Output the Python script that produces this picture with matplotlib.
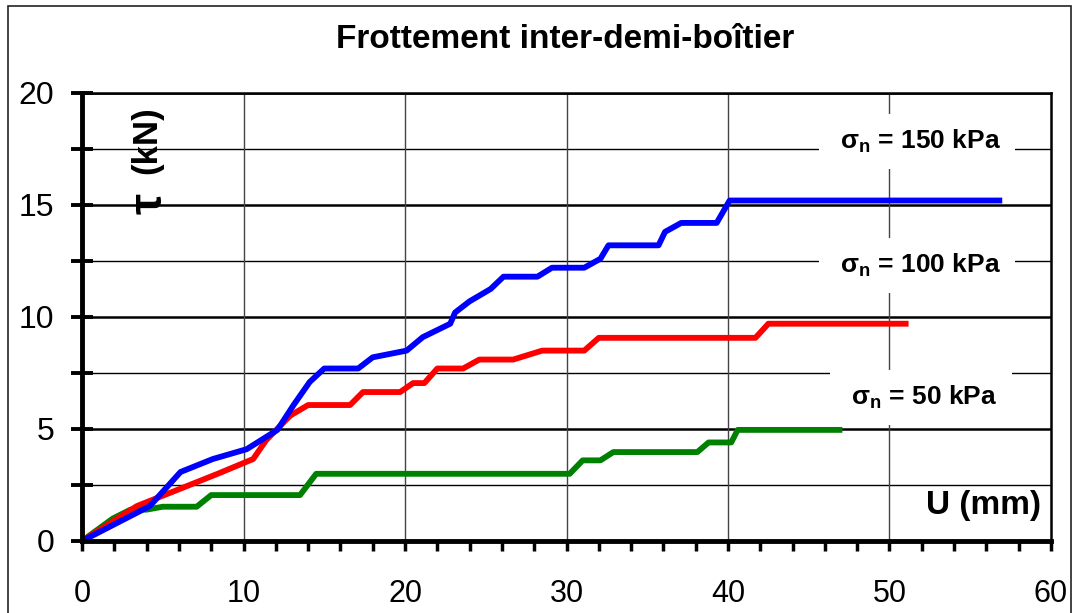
import matplotlib
matplotlib.use("Agg")
import matplotlib.pyplot as plt
from matplotlib.patches import Rectangle
from matplotlib.ticker import MultipleLocator

plt.rcParams['font.family'] = ['Liberation Sans', 'DejaVu Sans']
plt.rcParams['mathtext.fontset'] = 'custom'
plt.rcParams['mathtext.bf'] = 'Liberation Sans:bold'
plt.rcParams['mathtext.rm'] = 'Liberation Sans:bold'
plt.rcParams['mathtext.it'] = 'Liberation Sans:bold'
plt.rcParams['mathtext.default'] = 'bf'

# sigma_n = 150 kPa
u150 = [0, 4.2, 6.1, 8.1, 10.2, 12.1, 13.1, 14.1, 15.0, 17.1, 18.0, 20.1, 21.1,
        22.8, 23.1, 24.0, 25.3, 26.1, 28.2, 29.1, 31.1, 32.1, 32.6, 35.7, 36.1,
        37.1, 39.3, 40.1, 56.8]
t150 = [0, 1.56, 3.08, 3.66, 4.1, 4.96, 6.07, 7.1, 7.7, 7.7, 8.2, 8.5, 9.1,
        9.7, 10.2, 10.7, 11.25, 11.8, 11.8, 12.2, 12.2, 12.6, 13.2, 13.2, 13.8,
        14.2, 14.2, 15.2, 15.2]

# sigma_n = 100 kPa
u100 = [0, 3.4, 8.4, 10.6, 11.4, 12.9, 14.0, 16.6, 17.4, 19.7, 20.5, 21.2,
        22.0, 23.6, 24.6, 26.7, 28.5, 31.1, 32.0, 41.7, 42.5, 51.0]
t100 = [0, 1.56, 3.0, 3.66, 4.5, 5.6, 6.07, 6.07, 6.65, 6.65, 7.05, 7.05,
        7.7, 7.7, 8.1, 8.1, 8.5, 8.5, 9.07, 9.07, 9.7, 9.7]

# sigma_n = 50 kPa
u50 = [0, 1.9, 3.0, 4.0, 5.0, 7.1, 8.0, 13.5, 14.5, 30.2, 31.0, 32.1, 32.9,
       38.1, 38.8, 40.2, 40.6, 46.9]
t50 = [0, 1.0, 1.4, 1.4, 1.53, 1.53, 2.05, 2.05, 3.0, 3.0, 3.6, 3.6, 3.97,
       3.97, 4.4, 4.4, 4.96, 4.96]

labels = [r"$\sigma_n$ = 150 kPa", r"$\sigma_n$ = 100 kPa", r"$\sigma_n$ = 50 kPa"]
label_pos = [(51.7, 17.85), (51.7, 12.3), (51.95, 6.4)]

fig = plt.figure(figsize=(10.76, 6.13), dpi=100)
ax = fig.add_axes([82 / 1076, 72 / 613, 969 / 1076, 448 / 613])

# grid
for y in [2.5, 7.5, 12.5, 17.5]:
    ax.axhline(y, color='black', lw=1.0, zorder=1)
for y in [5, 10, 15, 20]:
    ax.axhline(y, color='black', lw=1.8, zorder=1)
for x in [10, 20, 30, 40, 50]:
    ax.axvline(x, color='#444444', lw=1.0, zorder=1)

ax.plot(u50, t50, color='#008000', lw=4.2, zorder=3)
ax.plot(u100, t100, color='#FF0000', lw=4.2, zorder=4)
ax.plot(u150, t150, color='#0000FF', lw=4.2, zorder=5)

for txt, (x, y) in zip(labels, label_pos):
    ax.text(x, y, " " + txt + " ", fontsize=19, fontweight='bold', ha='center',
            va='center', zorder=6,
            bbox=dict(facecolor='white', edgecolor='none', pad=10))

ax.text(59.4, 1.6, "U (mm)", fontsize=24, fontweight='bold', ha='right',
        va='center', zorder=6)
ax.text(4.0, 17.9, "(kN)", fontsize=25, fontweight='bold', rotation=90,
        ha='center', va='center', zorder=6)
ax.text(4.2, 15.05, r"$\tau$", fontsize=34, fontweight='bold', rotation=90,
        ha='center', va='center', zorder=6)

ax.set_xlim(0, 60)
ax.set_ylim(0, 20)
ax.xaxis.set_major_locator(MultipleLocator(10))
ax.xaxis.set_minor_locator(MultipleLocator(2))
ax.yaxis.set_major_locator(MultipleLocator(5))
ax.yaxis.set_minor_locator(MultipleLocator(2.5))

ax.tick_params(axis='x', which='both', direction='out', length=7, width=2.5,
               labelsize=22, pad=20)
ax.tick_params(axis='y', which='both', direction='inout', length=16, width=2.8,
               labelsize=23, pad=12)

ax.spines['left'].set_linewidth(3.5)
ax.spines['bottom'].set_linewidth(3.5)
ax.spines['right'].set_linewidth(1.8)
ax.spines['top'].set_linewidth(1.8)
for s in ax.spines.values():
    s.set_zorder(7)

fig.text(565 / 1076, 1 - 40 / 613, "Frottement inter-demi-boîtier",
         fontsize=24, fontweight='bold', ha='center', va='center')

fig.patches.append(Rectangle((8 / 1076, -0.05), 1063 / 1076, 1.05 - 6 / 613,
                             transform=fig.transFigure, fill=False,
                             edgecolor='#222222', lw=1.2))

fig.savefig("out.png", dpi=100)
